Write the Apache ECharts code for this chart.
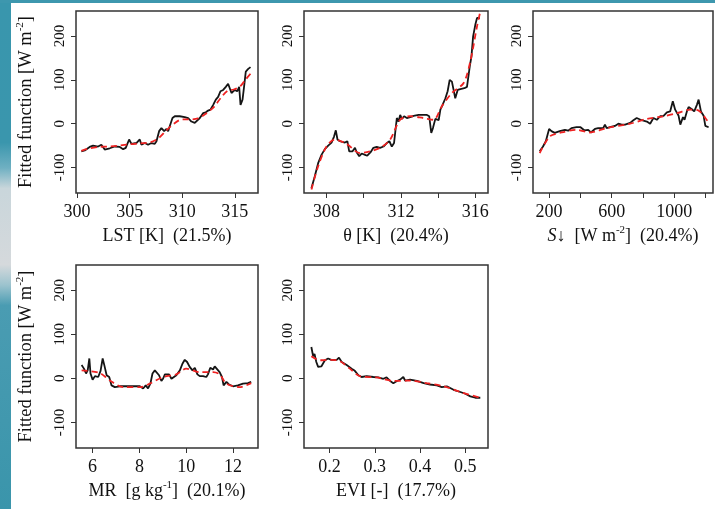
<!DOCTYPE html>
<html>
<head>
<meta charset="utf-8">
<script src="https://cdn.jsdelivr.net/npm/echarts@6/dist/echarts.min.js"></script>
<style>
html,body{margin:0;padding:0;background:#fff;}
#leftStrip{position:absolute;left:0;top:0;width:11px;height:509px;
 background:linear-gradient(to bottom,#3996ad 0%,#3a96ad 28%,#6fb0c2 33%,#c9d6db 37%,#d5d9dc 52%,#9cc3ce 56%,#4a9cb2 60%,#3a95ab 100%);}
#topStrip{position:absolute;left:0;top:0;width:715px;height:3px;background:#3d97ae;}
#chart{position:absolute;left:0;top:0;width:715px;height:509px;}
</style>
</head>
<body>
<div id="leftStrip"></div>
<div id="topStrip"></div>
<div id="chart"></div>
<script>
// ---------- data ----------
const yTicks = [-100, 0, 100, 200];

const lstTicks = [300, 305, 310, 315];
const lstLabels = [300, 305, 310, 315];
const lstFit = [[300.41,-63],[300.73,-61],[301.2,-53],[301.52,-50],[302.0,-52],[302.31,-48],[302.63,-59],[302.79,-63],[303.11,-56],[303.58,-52],[304.06,-53],[304.38,-58],[304.63,-55],[304.95,-36],[305.17,-46],[305.64,-44],[305.96,-36],[306.12,-48],[306.44,-44],[306.75,-48],[307.07,-44],[307.39,-46],[307.55,-40],[307.80,-17],[308.02,-10],[308.28,-17],[308.50,-12],[308.66,-17],[308.81,-6],[309.07,13],[309.29,17],[309.76,17],[310.24,15],[310.56,13],[310.87,5],[311.19,2],[311.35,3],[311.67,13],[311.98,24],[312.24,26],[312.46,30],[312.68,32],[312.94,43],[313.19,55],[313.41,61],[313.63,74],[313.89,77],[314.14,84],[314.36,91],[314.52,87],[314.68,70],[314.84,68],[315.0,77],[315.22,74],[315.41,84],[315.54,43],[315.73,55],[315.88,85],[316.04,119],[316.27,125],[316.49,129]];
const lstSmooth = [[300.41,-62],[301,-57],[302,-53],[303,-52],[304,-50],[305,-47],[306,-45],[307,-42],[307.8,-32],[308.5,-15],[309.2,0],[310,10],[310.8,10],[311.5,12],[312.2,22],[313,38],[313.7,60],[314.3,75],[314.9,78],[315.5,85],[316,100],[316.49,114]];

const thetaTicks = [308, 310, 312, 314, 316];
const thetaLabels = [308, 312, 316];
const thetaFit = [[307.19,-147],[307.37,-120],[307.55,-90],[307.73,-71],[307.91,-58],[308.09,-50],[308.27,-43],[308.40,-30],[308.50,-15],[308.59,-36],[308.72,-40],[308.99,-43],[309.12,-40],[309.22,-63],[309.40,-63],[309.53,-55],[309.62,-65],[309.76,-74],[309.89,-68],[310.07,-71],[310.19,-73],[310.37,-65],[310.52,-55],[310.70,-53],[310.88,-55],[311.06,-52],[311.24,-44],[311.38,-40],[311.51,-52],[311.63,-44],[311.78,13],[311.87,5],[311.96,20],[312.05,11],[312.17,17],[312.32,13],[312.50,15],[312.68,18],[312.95,20],[313.22,20],[313.40,20],[313.52,17],[313.63,-21],[313.72,-10],[313.85,11],[313.94,13],[314.03,8],[314.12,32],[314.21,40],[314.39,58],[314.51,74],[314.62,100],[314.74,96],[314.83,77],[314.92,58],[315.05,77],[315.19,79],[315.41,81],[315.55,84],[315.70,131],[315.79,153],[315.88,199],[316.0,226],[316.09,241],[316.24,241]];
const thetaSmooth = [[307.19,-150],[307.55,-97],[308,-52],[308.45,-36],[309.08,-46],[309.8,-67],[310.34,-63],[310.88,-55],[311.42,-36],[311.96,9],[312.5,17],[313.2,13],[313.76,9],[314.2,40],[314.74,70],[315.37,93],[315.73,142],[316.09,222],[316.3,262]];

const swTicks = [200, 400, 600, 800, 1000, 1200];
const swLabels = [200, 600, 1000];
const swFit = [[140,-63],[161,-52],[179,-40],[200,-12],[215,-17],[236,-21],[268,-17],[301,-14],[322,-16],[343,-10],[375,-8],[401,-8],[425,-15],[450,-14],[467,-20],[493,-12],[514,-10],[546,-10],[557,-2],[568,-10],[589,-8],[621,-5],[643,0],[664,-2],[686,-2],[718,2],[739,8],[760,13],[792,8],[825,5],[846,0],[867,13],[889,9],[910,17],[932,18],[953,26],[974,28],[991,51],[1006,32],[1028,18],[1039,-2],[1056,15],[1066,9],[1081,28],[1092,38],[1113,33],[1128,28],[1145,43],[1156,55],[1171,28],[1188,18],[1199,-5],[1220,-8]];
const swSmooth = [[140,-67],[204,-29],[268,-21],[375,-14],[461,-20],[568,-10],[718,0],[825,11],[932,17],[1017,24],[1103,32],[1156,30],[1199,13],[1220,2]];

const mrTicks = [6, 8, 10, 12];
const mrLabels = [6, 8, 10, 12];
const mrFit = [[5.53,30],[5.63,22],[5.72,11],[5.79,18],[5.86,45],[5.91,11],[6.0,-3],[6.10,5],[6.24,3],[6.34,17],[6.43,45],[6.50,30],[6.60,7],[6.71,3],[6.81,-16],[6.95,-20],[7.17,-18],[7.45,-18],[7.73,-18],[8.02,-18],[8.16,-23],[8.27,-16],[8.37,-23],[8.47,-12],[8.56,11],[8.66,18],[8.73,22],[8.84,7],[8.94,-6],[9.01,-1],[9.09,9],[9.16,5],[9.27,9],[9.37,-1],[9.44,-1],[9.58,7],[9.73,18],[9.84,33],[9.94,42],[10.04,37],[10.15,26],[10.27,18],[10.37,24],[10.48,9],[10.58,5],[10.72,5],[10.86,3],[10.93,9],[11.03,24],[11.15,20],[11.22,27],[11.29,24],[11.43,14],[11.53,3],[11.60,-16],[11.72,-8],[11.83,-14],[12.0,-18],[12.21,-16],[12.43,-12],[12.64,-11],[12.78,-8]];
const mrSmooth = [[5.53,18],[6.31,12],[6.74,-5],[7.31,-20],[8.02,-20],[8.45,-12],[9.01,3],[9.58,9],[10.0,22],[10.58,14],[11.15,14],[11.43,9],[11.72,-12],[12.28,-20],[12.78,-11]];

const eviTicks = [0.2, 0.3, 0.4, 0.5];
const eviLabels = [0.2, 0.3, 0.4, 0.5];
const eviFit = [[0.160,71],[0.164,50],[0.167,55],[0.171,37],[0.175,26],[0.182,27],[0.190,41],[0.197,45],[0.204,42],[0.216,42],[0.221,47],[0.227,37],[0.238,30],[0.249,22],[0.256,17],[0.264,7],[0.271,3],[0.282,5],[0.297,3],[0.308,2],[0.319,-1],[0.326,2],[0.334,-6],[0.341,-11],[0.349,-6],[0.356,-3],[0.363,3],[0.367,-5],[0.378,-3],[0.393,-6],[0.408,-11],[0.422,-14],[0.437,-16],[0.448,-20],[0.459,-18],[0.474,-26],[0.489,-31],[0.500,-35],[0.511,-41],[0.522,-44],[0.533,-44]];
const eviSmooth = [[0.160,50],[0.179,41],[0.201,42],[0.223,39],[0.245,22],[0.267,5],[0.304,2],[0.341,-6],[0.378,-5],[0.415,-11],[0.452,-18],[0.489,-31],[0.533,-44]];

const xTitles = ['LST [K]  (21.5%)', 'θ [K]  (20.4%)', '{it|S}↓  [W m{sup|-2}]  (20.4%)', 'MR  [g kg{sup|-1}]  (20.1%)', 'EVI [-]  (17.7%)'];
const yTitle = 'Fitted function [W m{sup|-2}]';

// ---------- layout ----------
const FONT = 'Liberation Serif';
const grids = [
  {left: 76, top: 11, width: 182, height: 182},
  {left: 304, top: 11, width: 184, height: 182},
  {left: 533, top: 11, width: 180, height: 182},
  {left: 76, top: 265, width: 182, height: 183},
  {left: 304, top: 265, width: 184, height: 183}
];
const xRanges = [[299.9, 317.2], [306.79, 316.68], [97, 1248], [5.29, 13.07], [0.1438, 0.550]];
const xTickSets = [lstTicks, thetaTicks, swTicks, mrTicks, eviTicks];
const xLabelSets = [lstLabels, thetaLabels, swLabels, mrLabels, eviLabels];
const fits = [lstFit, thetaFit, swFit, mrFit, eviFit];
const smooths = [lstSmooth, thetaSmooth, swSmooth, mrSmooth, eviSmooth];

const richStyles = {
  sup: {fontFamily: FONT, fontSize: 11, lineHeight: 10, verticalAlign: 'top', color: '#111'},
  it: {fontFamily: FONT, fontSize: 18, fontStyle: 'italic', lineHeight: 22, color: '#111'}
};

const option = {
  animation: false,
  grid: grids.map(g => Object.assign({show: true, borderColor: '#333', borderWidth: 1.5, backgroundColor: 'transparent', containLabel: false}, g)),
  xAxis: grids.map((g, i) => ({
    type: 'value', gridIndex: i,
    min: xRanges[i][0], max: xRanges[i][1],
    axisLine: {show: false, onZero: false},
    splitLine: {show: false},
    axisTick: {show: true, inside: false, length: 5, lineStyle: {color: '#333', width: 1}, customValues: xTickSets[i]},
    axisLabel: {show: true, margin: 10, fontFamily: FONT, fontSize: 18, color: '#111', customValues: xLabelSets[i],
      formatter: v => String(v)},
    name: xTitles[i], nameLocation: 'middle', nameGap: 32,
    nameTextStyle: {fontFamily: FONT, fontSize: 18, color: '#111', lineHeight: 22, rich: richStyles}
  })),
  yAxis: grids.map((g, i) => ({
    type: 'value', gridIndex: i,
    min: -158, max: 257,
    axisLine: {show: false, onZero: false},
    splitLine: {show: false},
    axisTick: {show: true, inside: false, length: 5, lineStyle: {color: '#333', width: 1}, customValues: yTicks},
    axisLabel: {show: true, rotate: 90, margin: 8, fontFamily: FONT, fontSize: 15, color: '#111', customValues: yTicks,
      formatter: v => String(v)},
    name: (i === 0 || i === 3) ? yTitle : '', nameLocation: 'middle', nameGap: 39,
    nameTextStyle: {fontFamily: FONT, fontSize: 18.5, color: '#111', lineHeight: 22, rich: {
      sup: {fontFamily: FONT, fontSize: 11, lineHeight: 10, verticalAlign: 'top', color: '#111'}
    }}
  })),
  series: [].concat(
    fits.map((d, i) => ({
      type: 'line', xAxisIndex: i, yAxisIndex: i, data: d, showSymbol: false, symbol: 'none',
      lineStyle: {color: '#151515', width: 1.8}, clip: true, z: 2
    })),
    smooths.map((d, i) => ({
      type: 'line', xAxisIndex: i, yAxisIndex: i, data: d, showSymbol: false, symbol: 'none', smooth: 0.3,
      lineStyle: {color: '#ee2222', width: 1.8, type: [6, 4]}, clip: true, z: 3
    }))
  )
};

const chart = echarts.init(document.getElementById('chart'), null, {renderer: 'canvas'});
chart.setOption(option);
</script>
</body>
</html>
